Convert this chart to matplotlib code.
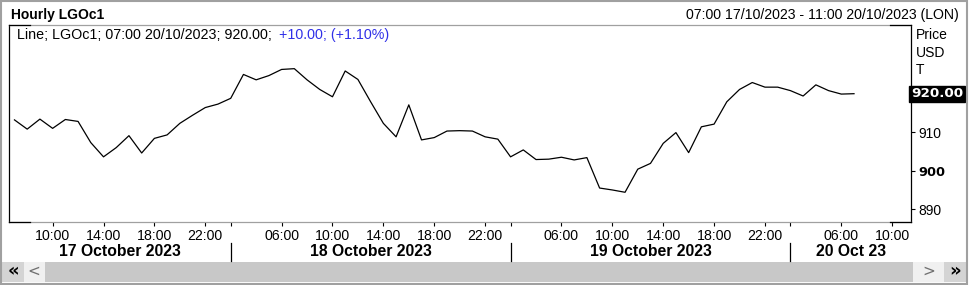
import matplotlib
matplotlib.use("Agg")
import matplotlib.pyplot as plt
from matplotlib.patches import Rectangle
from matplotlib.lines import Line2D
import matplotlib.transforms as mtransforms

# ---------------- data ----------------
days = ["17 October 2023", "18 October 2023", "19 October 2023", "20 Oct 23"]
day_hours = [list(range(7, 24)), list(range(2, 24)), list(range(2, 24)), list(range(2, 12))]
label_hours = [6, 10, 14, 18, 22]

prices = [
    913.2, 910.8, 913.4, 911.0, 913.3, 912.8, 907.3, 903.6, 906.0, 909.1,
    904.6, 908.4, 909.3, 912.3, 914.4, 916.4, 917.3, 918.8, 925.0, 923.6,
    924.7, 926.3, 926.5, 923.6, 921.1, 919.2, 925.9, 923.7, 917.9, 912.3,
    908.8, 917.1, 908.0, 908.6, 910.3, 910.4, 910.3, 908.8, 908.2, 903.6,
    905.4, 902.9, 903.0, 903.5, 902.8, 903.4, 895.5, 895.0, 894.4, 900.4,
    901.9, 907.1, 909.9, 904.7, 911.4, 912.1, 917.9, 921.1, 922.9, 921.7,
    921.7, 920.8, 919.4, 922.3, 920.8, 919.9, 920.0,
]
y_ticks = [890, 900, 910]
last_price_label = "920.00"
legend_black = "Line; LGOc1; 07:00 20/10/2023; 920.00; "
legend_blue = "+10.00; (+1.10%)"
title_left = "Hourly LGOc1"
title_right = "07:00 17/10/2023 - 11:00 20/10/2023 (LON)"
unit_labels = ["Price", "USD", "T"]

# ---------------- build bar index ----------------
bars = []
for d, hrs in enumerate(day_hours):
    for h in hrs:
        bars.append((d, h))
xs = list(range(len(prices)))

W, H = 969, 285
fig = plt.figure(figsize=(W / 100, H / 100), dpi=100)
fig.patch.set_facecolor("white")
FONT = "Liberation Sans"


def fx(px):
    return px / W


def fy(py):
    return 1 - py / H


L, R, T, B = 9, 911, 25, 222
ax = fig.add_axes([fx(L), fy(B), fx(R) - fx(L), (B - T) / H])
ax.plot(xs, prices, color="black", lw=0.9, solid_joinstyle="round")
ax.set_xlim(-0.43, 70.48)
ax.set_ylim(886.68, 937.84)

for s in ["top", "bottom"]:
    ax.spines[s].set_color("#a0a0a0")
    ax.spines[s].set_linewidth(0.9)
for s in ["left", "right"]:
    ax.spines[s].set_color("black")
    ax.spines[s].set_linewidth(0.9)

# corner dark segments
for (x0, x1, yy) in [(L, 30, T), (890, R, T), (L, 30, B), (890, R, B)]:
    fig.add_artist(Line2D([fx(x0), fx(x1)], [fy(yy), fy(yy)], color="black", lw=0.9,
                          transform=fig.transFigure))

# y axis on right
ax.yaxis.tick_right()
ax.set_yticks(y_ticks)
ax.set_yticklabels([str(v) for v in y_ticks])
ax.tick_params(axis="y", direction="out", length=3.0, width=0.8, pad=2.2,
               labelsize=10, colors="black")
for lab in ax.get_yticklabels():
    lab.set_fontfamily(FONT)
    if lab.get_text() == "900":
        lab.set_fontfamily("DejaVu Sans")
        lab.set_fontweight("bold")
        lab.set_fontsize(9.3)

# last price box
bt = mtransforms.blended_transform_factory(ax.transAxes, ax.transData)
ax.text(1.0, prices[-1], last_price_label, transform=bt, ha="left", va="center",
        fontsize=9.7, fontfamily="DejaVu Sans", fontweight="bold", color="white",
        clip_on=False,
        bbox=dict(boxstyle="square,pad=0.12", fc="black", ec="black"))

# unit labels
for lab, yb in zip(unit_labels, [39, 56.7, 74]):
    fig.text(fx(916), fy(yb), lab, ha="left", va="baseline", fontsize=10, fontfamily=FONT)

# x ticks
tick_pos, tick_lab = [], []
for i, (d, h) in enumerate(bars):
    if i > 0 and bars[i - 1][0] != d:
        tick_pos.append(i)
        tick_lab.append("")
    elif h in label_hours:
        tick_pos.append(i)
        tick_lab.append(f"{h:02d}:00")
ax.set_xticks(tick_pos)
ax.set_xticklabels(tick_lab)
ax.tick_params(axis="x", direction="out", length=3.0, width=0.8, pad=2.4,
               labelsize=10.2, colors="black")
for lab in ax.get_xticklabels():
    lab.set_fontfamily(FONT)

# day boundaries and labels
bx = mtransforms.blended_transform_factory(ax.transData, fig.transFigure)
starts = [0]
for i in range(1, len(bars)):
    if bars[i][0] != bars[i - 1][0]:
        starts.append(i)
edges = [ax.get_xlim()[0]] + starts[1:] + [ax.get_xlim()[1]]
for k, name in enumerate(days):
    cx = (edges[k] + edges[k + 1]) / 2
    fig.text(cx, fy(255.7), name, transform=bx, ha="center", va="baseline",
             fontsize=11.3, fontweight="bold", fontfamily=FONT)
for s in starts[1:]:
    fig.add_artist(Line2D([s, s], [fy(243), fy(261)], color="black", lw=0.9, transform=bx))

# legend text inside plot
tb = fig.text(fx(17), fy(39.3), legend_black, ha="left", va="baseline", fontsize=10.3,
              fontfamily=FONT, color="black")
fig.canvas.draw()
ext = tb.get_window_extent()
fig.text(fx(ext.x1 + 3), fy(39.3), legend_blue, ha="left", va="baseline", fontsize=10.3,
         fontfamily=FONT, color="#3030e8")

# header
fig.text(fx(11), fy(18.8), title_left, ha="left", va="baseline", fontsize=10,
         fontweight="bold", fontfamily=FONT)
fig.text(fx(959), fy(19), title_right, ha="right", va="baseline", fontsize=10.15,
         fontfamily=FONT)


# scrollbar
def rect(x0, y0, x1, y1, color):
    fig.add_artist(Rectangle((fx(x0), fy(y1)), fx(x1) - fx(x0), (y1 - y0) / H,
                             transform=fig.transFigure, fc=color, ec="none"))


rect(2, 261.5, 967, 281.5, "#f0f0f0")
rect(2, 261.5, 24, 281.5, "#d4d4d4")
rect(45, 261.5, 913, 281.5, "#c8c8c8")
rect(944, 261.5, 967, 281.5, "#d4d4d4")
fig.text(fx(13), fy(271.5), "«", ha="center", va="center", fontsize=13,
         fontweight="bold", fontfamily="DejaVu Sans")
fig.text(fx(34), fy(271.5), "<", ha="center", va="center", fontsize=11,
         color="#707070", fontfamily="DejaVu Sans")
fig.text(fx(929), fy(271.5), ">", ha="center", va="center", fontsize=11,
         color="#707070", fontfamily="DejaVu Sans")
fig.text(fx(955), fy(271.5), "»", ha="center", va="center", fontsize=13,
         fontweight="bold", fontfamily="DejaVu Sans")

# outer frame
fig.add_artist(Rectangle((0.0008, 0.002), 0.9975, 0.996, transform=fig.transFigure,
                         fc="none", ec="#a0a0a0", lw=1.5))

fig.savefig("out.png", dpi=100)
